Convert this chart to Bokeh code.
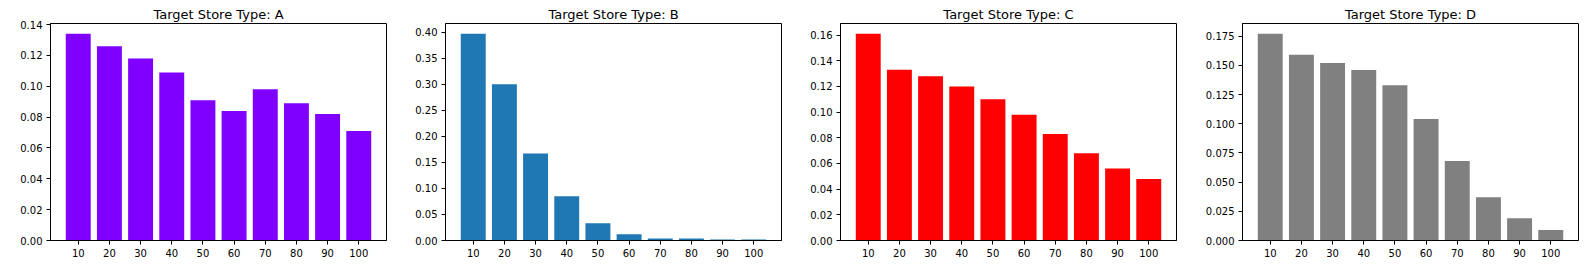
from bokeh.plotting import figure
from bokeh.layouts import row
from bokeh.models import FactorRange, Range1d, FixedTicker, NumeralTickFormatter, ColumnDataSource
from bokeh.embed import file_html
from bokeh.resources import INLINE

deciles = ["10", "20", "30", "40", "50", "60", "70", "80", "90", "100"]
share_a = [0.134, 0.126, 0.118, 0.109, 0.091, 0.084, 0.098, 0.089, 0.082, 0.071]
share_b = [0.397, 0.300, 0.167, 0.085, 0.033, 0.012, 0.004, 0.004, 0.002, 0.002]
share_c = [0.161, 0.133, 0.128, 0.120, 0.110, 0.098, 0.083, 0.068, 0.056, 0.048]
share_d = [0.177, 0.159, 0.152, 0.146, 0.133, 0.104, 0.068, 0.037, 0.019, 0.009]

store_types = ["A", "B", "C", "D"]
colors = ["#8000ff", "#1f77b4", "#ff0000", "#808080"]
yticks = [
    [0.0, 0.02, 0.04, 0.06, 0.08, 0.10, 0.12, 0.14],
    [0.0, 0.05, 0.10, 0.15, 0.20, 0.25, 0.30, 0.35, 0.40],
    [0.0, 0.02, 0.04, 0.06, 0.08, 0.10, 0.12, 0.14, 0.16],
    [0.0, 0.025, 0.05, 0.075, 0.10, 0.125, 0.15, 0.175],
]
formats = ["0.00", "0.00", "0.00", "0.000"]
series = [share_a, share_b, share_c, share_d]

FONT = "DejaVu Sans"
lefts = [50, 50, 50, 57]
widths = [395, 395, 395, 397]
FRAME_W = 336
figs = []
for st, vals, col, tk, fmt, left, width in zip(store_types, series, colors, yticks, formats, lefts, widths):
    p = figure(
        x_range=FactorRange(*deciles, range_padding=0.078),
        y_range=Range1d(0, max(vals) * 1.05),
        width=width, height=278,
        output_backend="svg", toolbar_location=None,
        min_border_left=left, min_border_right=width - left - FRAME_W,
        min_border_top=23, min_border_bottom=38,
        title="Target Store Type: " + st,
    )
    src = ColumnDataSource(dict(x=deciles, top=vals))
    p.vbar(x="x", top="top", width=0.8, source=src, fill_color=col, line_color=None)
    p.title.align = "center"
    p.title.text_font = FONT
    p.title.text_font_size = "13px"
    p.title.text_font_style = "normal"
    p.title.text_color = "black"
    p.title.standoff = 4
    p.xgrid.visible = False
    p.ygrid.visible = False
    p.outline_line_color = "black"
    p.outline_line_alpha = 1
    p.yaxis.ticker = FixedTicker(ticks=tk)
    p.yaxis.formatter = NumeralTickFormatter(format=fmt)
    for ax in (p.xaxis, p.yaxis):
        ax.axis_line_color = "black"
        ax.major_tick_line_color = "black"
        ax.major_tick_out = 4
        ax.major_tick_in = 0
        ax.minor_tick_line_color = None
        ax.major_label_text_font = FONT
        ax.major_label_text_font_size = "10px"
        ax.major_label_text_color = "black"
        ax.major_label_standoff = 4
    p.x_range.factor_padding = 0
    figs.append(p)

layout = row(*figs, spacing=0)
open("out.html", "w").write(file_html(layout, INLINE))
